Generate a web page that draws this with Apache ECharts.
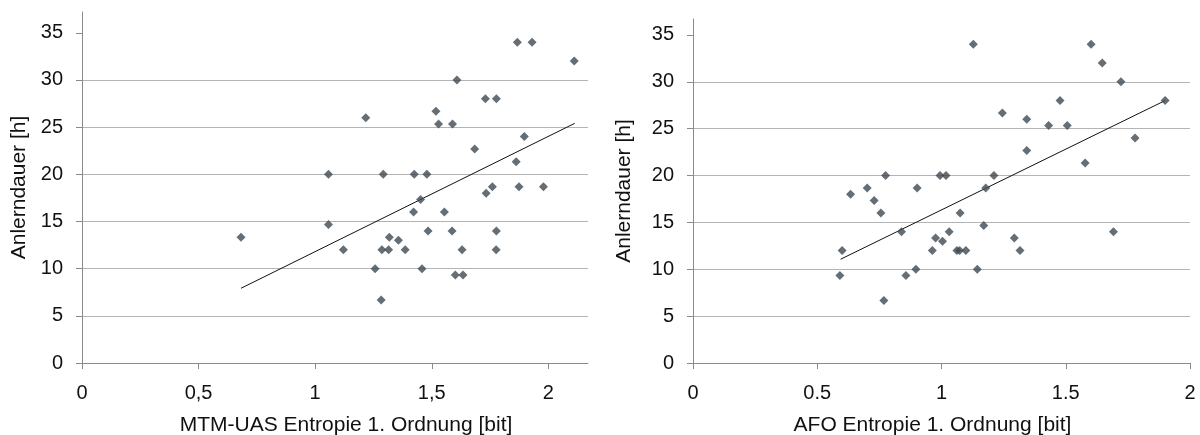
<!DOCTYPE html>
<html>
<head>
<meta charset="utf-8">
<script src="https://cdn.jsdelivr.net/npm/echarts@6/dist/echarts.min.js"></script>
<style>
  html, body { margin: 0; padding: 0; background: #fff; }
  #chart { width: 1200px; height: 435px; }
</style>
</head>
<body>
<div id="chart"></div>
<script>
// Anlerndauer vs. Entropie 1. Ordnung (MTM-UAS links, AFO rechts)
var mtmEntropy = [1.867, 1.930, 2.111, 1.608, 1.730, 1.777, 1.518, 1.217, 1.529, 1.589, 1.897,
    1.684, 1.862, 1.057, 1.292, 1.425, 1.479, 1.733, 1.760, 1.874, 1.979, 1.452, 1.422, 1.554,
    1.057, 1.484, 1.587, 1.777, 1.318, 1.357, 1.121, 1.286, 1.315, 1.386, 1.630, 1.776, 1.257,
    1.458, 1.601, 1.634, 1.283, 0.682];
var mtmHours = [34, 34, 32, 30, 28, 28, 26.67, 26, 25.33, 25.33, 24,
    22.67, 21.33, 20, 20, 20, 20, 18, 18.67, 18.67, 18.67, 17.33, 16, 16,
    14.67, 14, 14, 14, 13.33, 13, 12, 12, 12, 12, 12, 12, 10,
    10, 9.33, 9.33, 6.67, 13.33];

var afoEntropy = [0.775, 0.634, 0.701, 0.729, 0.756, 1.128, 1.602, 1.647, 1.722, 1.477, 1.900,
    1.245, 1.343, 1.431, 1.506, 1.779, 1.343, 1.578, 0.994, 1.018, 1.211, 0.902, 1.178, 1.075,
    0.839, 0.600, 0.591, 0.768, 0.857, 1.170, 0.976, 1.031, 1.004, 1.293, 0.963, 1.062, 1.073,
    1.098, 1.316, 1.692, 0.897, 1.144];
var afoHours = [20, 18, 18.67, 17.33, 16, 34, 34, 32, 30, 28, 28,
    26.67, 26, 25.33, 25.33, 24, 22.67, 21.33, 20, 20, 20, 18.67, 18.67, 16,
    14, 12, 9.33, 6.67, 9.33, 14.67, 13.33, 14, 13, 13.33, 12, 12, 12,
    12, 12, 14, 10, 10];

// Trendlinien (Endpunkte)
var mtmTrendX = [0.682, 2.113];
var mtmTrendY = [7.92, 25.4];
var afoTrendX = [0.594, 1.90];
var afoTrendY = [11.07, 28.0];

var xTicks = [0, 0.5, 1, 1.5, 2];
var yTicks = [0, 5, 10, 15, 20, 25, 30, 35];

var yName = 'Anlerndauer [h]';
var mtmName = 'MTM-UAS Entropie 1. Ordnung [bit]';
var afoName = 'AFO Entropie 1. Ordnung [bit]';

function pairs(xs, ys) {
    return xs.map(function (x, i) { return [x, ys[i]]; });
}

var font = 'Liberation Sans, Arial, sans-serif';
var textColor = '#111';
var axisColor = '#8a8a8a';
var gridColor = '#b4b4b4';
var dotColor = '#3e4852';

function xAxis(idx, max, name, comma, pad) {
    return {
        type: 'value', gridIndex: idx, min: 0, max: max,
        name: name, nameLocation: 'middle', nameGap: 52,
        nameTextStyle: { fontFamily: font, fontSize: 21, color: textColor, padding: pad },
        axisLine: { show: true, onZero: false, lineStyle: { color: axisColor, width: 1 } },
        axisTick: { show: true, length: 6, inside: false, customValues: xTicks, lineStyle: { color: axisColor } },
        axisLabel: {
            customValues: xTicks, margin: 20, fontFamily: font, fontSize: 20, color: textColor,
            formatter: function (v) { return comma ? String(v).replace('.', ',') : String(v); }
        },
        splitLine: { show: false }
    };
}

function yAxis(idx, max, gap) {
    return {
        type: 'value', gridIndex: idx, min: 0, max: max,
        name: yName, nameLocation: 'middle', nameGap: gap, nameRotate: 90,
        nameTextStyle: { fontFamily: font, fontSize: 21, color: textColor },
        axisLine: { show: true, lineStyle: { color: axisColor, width: 1 } },
        axisTick: { show: true, length: 6, customValues: yTicks, lineStyle: { color: axisColor } },
        axisLabel: { customValues: yTicks, margin: 19, fontFamily: font, fontSize: 20, color: textColor },
        splitLine: { show: true, showMaxLine: false, lineStyle: { color: gridColor, width: 1 } }
    };
}

var myChart = echarts.init(document.getElementById('chart'), null, { renderer: 'canvas' });

var option = {
    animation: false,
    backgroundColor: '#fff',
    grid: [
        { left: 82, top: 12, width: 506, height: 351, outerBoundsMode: 'none', containLabel: false },
        { left: 693, top: 19, width: 497, height: 344, outerBoundsMode: 'none', containLabel: false }
    ],
    xAxis: [
        xAxis(0, 2.17, mtmName, true, [0, 0, 0, 22]),
        xAxis(1, 2, afoName, false, [0, 18, 0, 0])
    ],
    yAxis: [
        yAxis(0, 37.2, 52),
        yAxis(1, 36.7, 58)
    ],
    series: [
        {
            type: 'line', xAxisIndex: 0, yAxisIndex: 0, data: pairs(mtmTrendX, mtmTrendY),
            symbol: 'none', lineStyle: { color: '#111', width: 1 }, z: 3
        },
        {
            type: 'scatter', xAxisIndex: 0, yAxisIndex: 0, data: pairs(mtmEntropy, mtmHours),
            symbol: 'diamond', symbolSize: 9, itemStyle: { color: dotColor }, z: 4
        },
        {
            type: 'line', xAxisIndex: 1, yAxisIndex: 1, data: pairs(afoTrendX, afoTrendY),
            symbol: 'none', lineStyle: { color: '#111', width: 1 }, z: 3
        },
        {
            type: 'scatter', xAxisIndex: 1, yAxisIndex: 1, data: pairs(afoEntropy, afoHours),
            symbol: 'diamond', symbolSize: 9, itemStyle: { color: dotColor }, z: 4
        }
    ]
};

myChart.setOption(option);
</script>
</body>
</html>
